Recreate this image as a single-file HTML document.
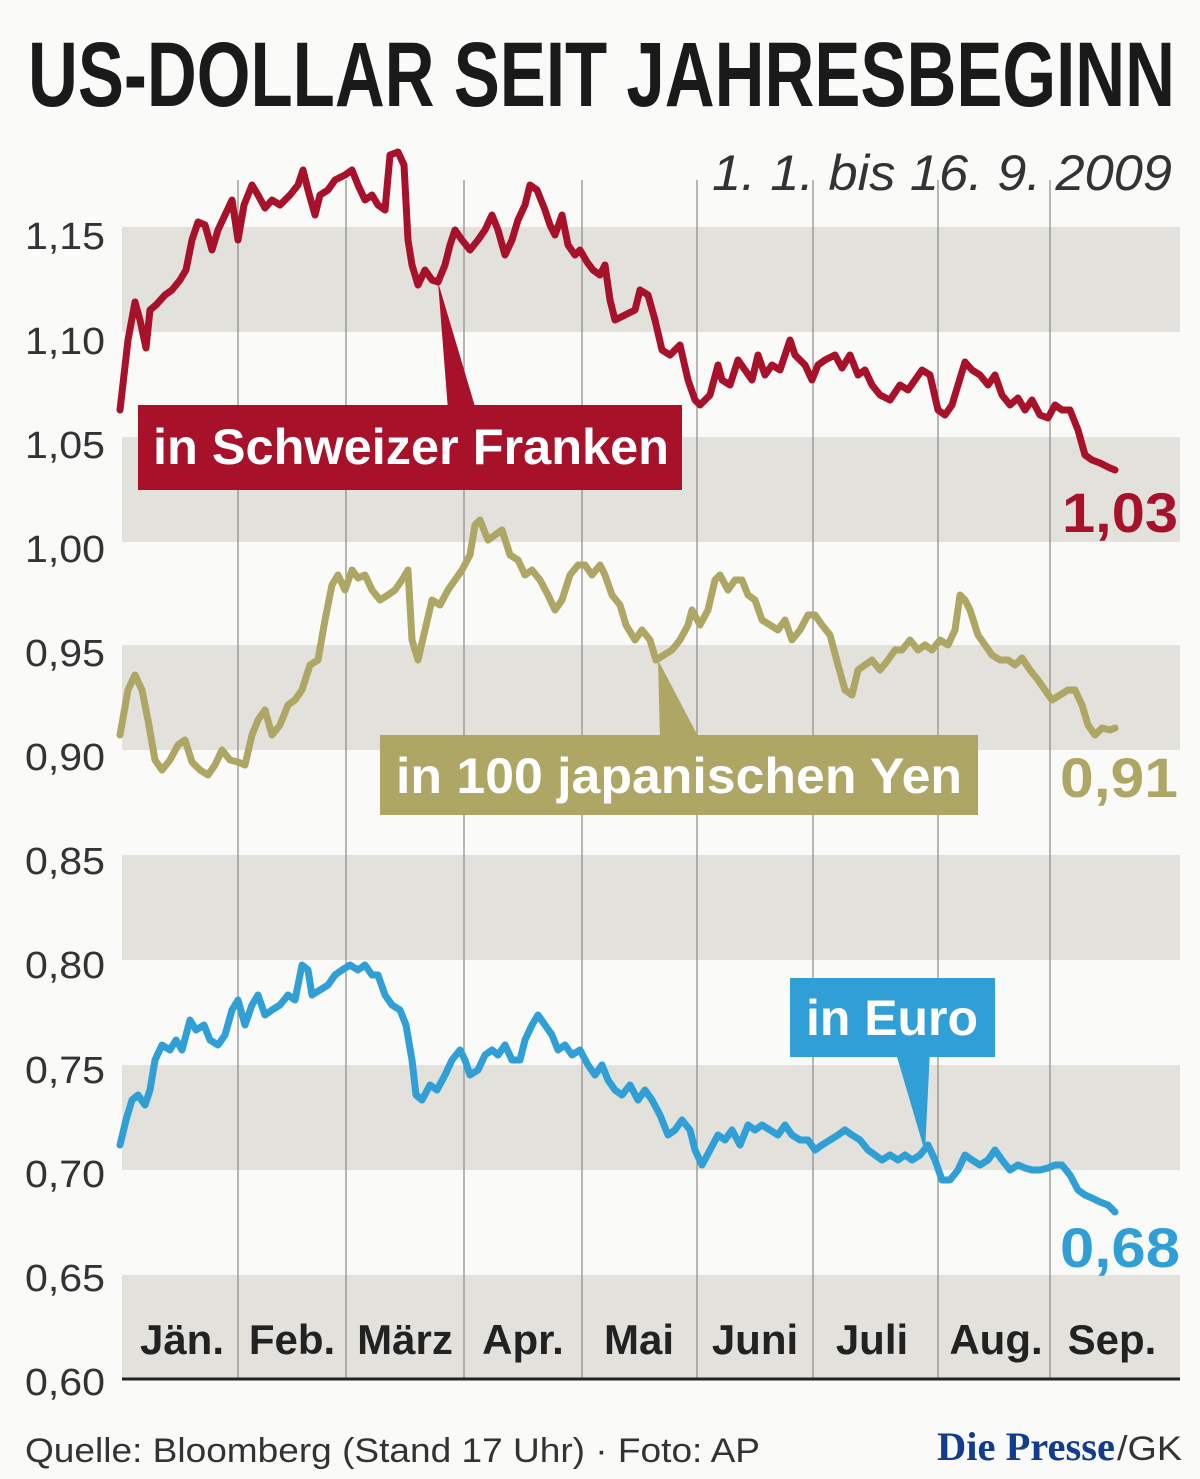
<!DOCTYPE html>
<html><head><meta charset="utf-8"><style>html,body{margin:0;padding:0;background:#fafaf8}svg{display:block}</style></head>
<body>
<svg width="1200" height="1479" viewBox="0 0 1200 1479" xmlns="http://www.w3.org/2000/svg" font-family="Liberation Sans Narrow, Liberation Sans, sans-serif">
<rect width="1200" height="1479" fill="#fafaf8"/>
<g fill="#e2e1dc">
<rect x="122" y="227" width="1058" height="105"/>
<rect x="122" y="437" width="1058" height="105"/>
<rect x="122" y="645" width="1058" height="105"/>
<rect x="122" y="855" width="1058" height="105"/>
<rect x="122" y="1065" width="1058" height="105"/>
<rect x="122" y="1275" width="1058" height="104"/>
</g>
<g stroke="#8a8a88" stroke-width="1.2">
<line x1="238" y1="180" x2="238" y2="1379"/><line x1="346" y1="180" x2="346" y2="1379"/>
<line x1="464" y1="180" x2="464" y2="1379"/><line x1="582" y1="180" x2="582" y2="1379"/>
<line x1="697" y1="180" x2="697" y2="1379"/><line x1="813" y1="180" x2="813" y2="1379"/>
<line x1="938" y1="180" x2="938" y2="1379"/><line x1="1050" y1="180" x2="1050" y2="1379"/>
</g>
<line x1="122" y1="1379" x2="1180" y2="1379" stroke="#222" stroke-width="3"/>
<text x="28" y="106" font-size="92" font-weight="bold" fill="#1a1a1a" textLength="1147" lengthAdjust="spacingAndGlyphs">US-DOLLAR SEIT JAHRESBEGINN</text>
<text x="712" y="190" font-size="50" font-style="italic" fill="#333" textLength="460" lengthAdjust="spacingAndGlyphs">1. 1. bis 16. 9. 2009</text>
<g font-size="38" fill="#333">
<text x="25" y="249" textLength="80" lengthAdjust="spacingAndGlyphs">1,15</text>
<text x="25" y="354" textLength="80" lengthAdjust="spacingAndGlyphs">1,10</text>
<text x="25" y="458" textLength="80" lengthAdjust="spacingAndGlyphs">1,05</text>
<text x="25" y="562" textLength="80" lengthAdjust="spacingAndGlyphs">1,00</text>
<text x="25" y="666" textLength="80" lengthAdjust="spacingAndGlyphs">0,95</text>
<text x="25" y="770" textLength="80" lengthAdjust="spacingAndGlyphs">0,90</text>
<text x="25" y="874" textLength="80" lengthAdjust="spacingAndGlyphs">0,85</text>
<text x="25" y="978" textLength="80" lengthAdjust="spacingAndGlyphs">0,80</text>
<text x="25" y="1083" textLength="80" lengthAdjust="spacingAndGlyphs">0,75</text>
<text x="25" y="1187" textLength="80" lengthAdjust="spacingAndGlyphs">0,70</text>
<text x="25" y="1291" textLength="80" lengthAdjust="spacingAndGlyphs">0,65</text>
<text x="25" y="1395" textLength="80" lengthAdjust="spacingAndGlyphs">0,60</text>
</g>
<g font-size="42" font-weight="bold" fill="#222" text-anchor="middle">
<text x="182" y="1354">Jän.</text><text x="292" y="1354">Feb.</text><text x="405" y="1354">März</text>
<text x="523" y="1354">Apr.</text><text x="639" y="1354">Mai</text><text x="755" y="1354">Juni</text>
<text x="872" y="1354">Juli</text><text x="996" y="1354">Aug.</text><text x="1112" y="1354">Sep.</text>
</g>
<g fill="none" stroke-width="7" stroke-linejoin="round" stroke-linecap="round">
<polyline stroke="#a8112a" points="120,410 128,340 135,302 140,320 146,348 150,310 156,305 165,295 172,290 180,280 186,270 192,240 198,222 205,225 212,250 218,230 225,215 232,200 238,240 244,205 252,185 258,195 265,208 272,200 280,205 290,195 298,185 303,170 308,190 315,215 320,195 328,190 335,180 345,175 352,170 358,185 365,200 372,195 378,205 385,210 390,155 398,152 404,165 408,240 412,265 418,285 425,270 432,280 438,282 445,265 450,245 455,230 462,240 470,250 478,240 485,230 492,215 498,230 505,255 512,240 518,220 525,205 530,185 537,190 545,210 550,225 555,235 562,215 568,245 575,255 580,250 587,262 593,270 600,275 605,265 610,300 615,320 625,315 635,310 640,290 648,295 655,320 662,350 670,355 680,345 688,380 695,400 700,405 710,395 718,365 722,380 730,385 738,360 745,370 752,380 758,355 765,375 772,365 780,370 790,340 795,355 805,365 812,380 818,365 825,360 835,355 842,368 850,355 858,375 865,370 872,385 880,395 890,400 900,385 908,390 915,380 922,370 930,375 938,410 945,415 952,405 958,385 965,362 972,370 980,375 988,385 995,375 1002,395 1010,405 1018,398 1025,410 1032,400 1040,415 1048,418 1055,405 1062,410 1070,410 1078,430 1085,455 1092,460 1100,463 1110,468 1115,470"/>
<polyline stroke="#aea665" points="120,735 128,690 135,675 142,690 148,720 155,760 162,770 170,760 178,745 185,740 192,762 200,770 208,775 215,765 222,750 230,760 238,762 245,765 252,735 258,720 265,710 272,735 280,725 288,705 295,700 302,690 310,665 318,660 325,620 332,585 338,575 345,590 352,570 358,578 365,575 372,590 380,600 388,595 395,590 402,580 408,570 412,640 418,660 425,630 432,600 440,605 448,590 455,580 462,570 470,555 475,525 480,520 488,540 495,535 502,530 510,555 518,560 525,575 532,570 540,580 548,595 555,610 562,600 570,575 578,565 585,565 592,575 600,565 605,575 612,595 620,605 626,625 635,640 642,630 650,640 656,660 664,655 672,650 680,640 688,625 692,610 700,625 708,610 715,580 720,575 728,590 735,580 742,580 748,595 755,600 762,620 770,625 778,630 785,620 792,640 800,630 808,615 815,615 822,625 830,635 838,665 845,690 852,695 858,670 865,665 872,660 880,670 888,660 895,650 902,650 910,640 918,650 925,645 932,650 940,640 948,645 955,630 960,595 965,600 970,610 978,635 985,645 992,655 1000,660 1008,660 1015,665 1022,658 1030,670 1038,680 1045,690 1052,700 1060,695 1068,690 1075,690 1082,705 1088,725 1095,735 1102,728 1110,730 1115,728"/>
<polyline stroke="#2f9fd5" points="120,1145 126,1120 132,1100 138,1095 145,1105 150,1090 155,1060 162,1045 170,1050 176,1040 182,1050 190,1020 196,1030 204,1025 210,1040 218,1045 225,1035 232,1010 238,1000 245,1025 252,1005 258,995 265,1015 272,1010 280,1005 288,995 295,1000 302,965 308,970 312,995 320,990 328,985 335,975 342,970 350,965 358,970 365,965 372,975 378,975 385,995 392,1005 400,1010 406,1025 412,1060 416,1095 422,1100 430,1085 437,1090 445,1075 452,1060 460,1050 465,1060 470,1075 478,1070 485,1055 492,1050 498,1055 505,1045 512,1060 520,1060 525,1040 532,1025 538,1015 545,1025 552,1035 558,1050 565,1045 572,1055 580,1050 588,1065 595,1075 602,1065 608,1080 615,1090 622,1095 630,1085 638,1100 645,1090 652,1100 660,1115 668,1135 675,1130 682,1120 690,1130 695,1150 702,1165 710,1150 718,1135 725,1140 732,1130 740,1145 748,1125 755,1130 762,1125 770,1130 778,1135 785,1125 792,1135 800,1140 808,1140 815,1150 822,1145 830,1140 838,1135 845,1130 852,1135 860,1140 868,1150 875,1155 882,1160 890,1155 898,1160 905,1155 912,1160 920,1155 928,1145 935,1160 942,1180 950,1180 958,1170 965,1155 972,1160 980,1165 988,1160 995,1150 1002,1160 1010,1170 1018,1165 1025,1168 1032,1170 1040,1170 1048,1168 1055,1165 1062,1165 1070,1175 1078,1190 1085,1195 1092,1198 1100,1202 1108,1205 1115,1212"/>
</g>
<polygon points="438,282 448,410 476,410" fill="#a8112a"/>
<rect x="138" y="405" width="544" height="85" fill="#a8112a"/>
<text x="153" y="464" font-size="50" font-weight="bold" fill="#fff" textLength="516" lengthAdjust="spacingAndGlyphs">in Schweizer Franken</text>
<polygon points="658,660 660,740 700,740" fill="#aea665"/>
<rect x="380" y="735" width="598" height="80" fill="#aea665"/>
<text x="396" y="793" font-size="50" font-weight="bold" fill="#fff" textLength="566" lengthAdjust="spacingAndGlyphs">in 100 japanischen Yen</text>
<polygon points="895,1050 925,1152 930,1050" fill="#2f9fd5"/>
<rect x="790" y="978" width="205" height="79" fill="#2f9fd5"/>
<text x="806" y="1035" font-size="50" font-weight="bold" fill="#fff" textLength="172" lengthAdjust="spacingAndGlyphs">in Euro</text>
<g font-size="56" font-weight="bold">
<text x="1062" y="532" fill="#a8112a" textLength="116" lengthAdjust="spacingAndGlyphs">1,03</text>
<text x="1060" y="797" fill="#aea665" textLength="118" lengthAdjust="spacingAndGlyphs">0,91</text>
<text x="1060" y="1267" fill="#2f9fd5" textLength="120" lengthAdjust="spacingAndGlyphs">0,68</text>
</g>
<text x="25" y="1462" font-size="34" fill="#333" textLength="735" lengthAdjust="spacingAndGlyphs">Quelle: Bloomberg (Stand 17 Uhr)  ·  Foto: AP</text>
<text x="937" y="1460" font-size="40" font-weight="bold" font-family="Liberation Serif, serif" fill="#123c8c" textLength="178" lengthAdjust="spacingAndGlyphs">Die Presse</text>
<text x="1117" y="1460" font-size="34" fill="#333" textLength="65" lengthAdjust="spacingAndGlyphs">/GK</text>
</svg>
</body></html>
